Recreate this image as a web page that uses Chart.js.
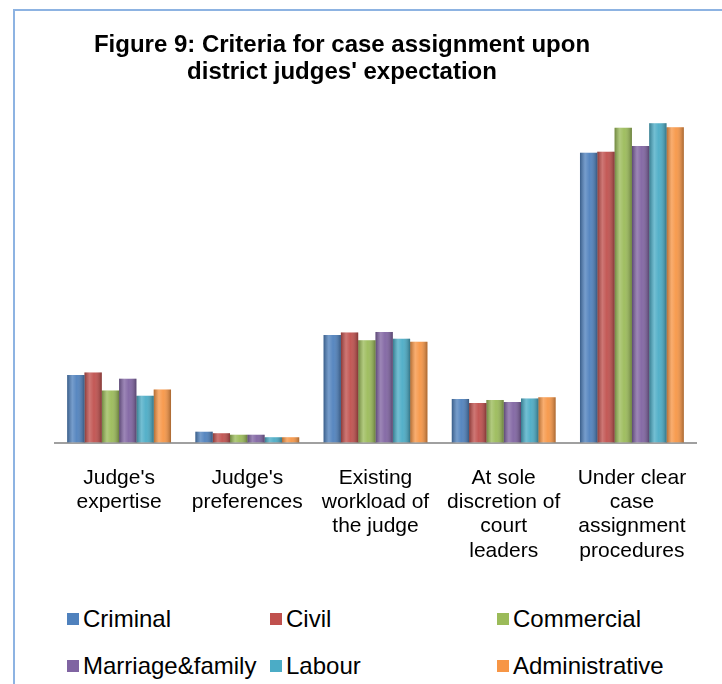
<!DOCTYPE html>
<html>
<head>
<meta charset="utf-8">
<script src="https://cdn.jsdelivr.net/npm/chart.js@4"></script>
<style>
  html, body { margin: 0; padding: 0; background: #fff; overflow: hidden; }
  body { width: 722px; height: 684px; position: relative; font-family: "Liberation Sans", Arial, sans-serif; }
  #frame { position: absolute; left: 13px; top: 9px; width: 760px; height: 720px; border: 2px solid #8db3e2; }
  #title { position: absolute; left: 42px; width: 600px; top: 30px; text-align: center; font-weight: bold; font-size: 24px; line-height: 27px; color: #000; }
  #wrap { position: absolute; left: 0; top: 0; width: 722px; height: 600px; }
  #legend { position: absolute; left: 0; top: 0; }
  .item { position: absolute; font-size: 24px; color: #000; white-space: nowrap; line-height: 24px; }
  .box { display: inline-block; width: 12px; height: 12px; margin-right: 4px; vertical-align: 2px; }
</style>
</head>
<body>
<div id="frame"></div>
<div id="wrap"><canvas id="chart"></canvas></div>
<div id="title">Figure 9: Criteria for case assignment upon<br>district judges' expectation</div>
<div id="legend"></div>
<script>
const categories = [
    ["Judge's", "expertise"],
    ["Judge's", "preferences"],
    ["Existing", "workload of", "the judge"],
    ["At sole", "discretion of", "court", "leaders"],
    ["Under clear", "case", "assignment", "procedures"]
];
const seriesNames = ['Criminal', 'Civil', 'Commercial', 'Marriage&family', 'Labour', 'Administrative'];
const seriesColors = ['#4f81bd', '#c0504d', '#9bbb59', '#8064a2', '#4bacc6', '#f79646'];

// percent of judges per case type
const criminal = [13.0, 2.1, 20.7, 8.4, 55.8];
const civil = [13.5, 1.8, 21.2, 7.6, 56.0];
const commercial = [10.0, 1.5, 19.7, 8.2, 60.6];
const marriageFamily = [12.3, 1.5, 21.3, 7.8, 57.1];
const labour = [9.0, 1.0, 20.0, 8.5, 61.5];
const administrative = [10.2, 1.0, 19.4, 8.7, 60.7];
const seriesValues = [criminal, civil, commercial, marriageFamily, labour, administrative];

// legend slots (left, top) in the order of the series
const legendSlots = [[67, 607], [270, 607], [497, 607], [67, 654], [270, 654], [497, 654]];

const legendEl = document.getElementById('legend');
seriesNames.forEach((name, i) => {
    const div = document.createElement('div');
    div.className = 'item';
    div.style.left = legendSlots[i][0] + 'px';
    div.style.top = legendSlots[i][1] + 'px';
    div.innerHTML = '<span class="box" style="background:' + seriesColors[i] + '"></span>' + name.replace('&', '&amp;');
    legendEl.appendChild(div);
});

// cylinder-like shading on top of each bar
const barShade = {
    id: 'barShade',
    afterDatasetsDraw(chart) {
        const ctx = chart.ctx;
        chart.data.datasets.forEach((ds, i) => {
            const meta = chart.getDatasetMeta(i);
            meta.data.forEach(bar => {
                const p = bar.getProps(['x', 'y', 'base', 'width'], true);
                const left = p.x - p.width / 2;
                const g = ctx.createLinearGradient(left, 0, left + p.width, 0);
                g.addColorStop(0, 'rgba(0,0,0,0.28)');
                g.addColorStop(0.3, 'rgba(255,255,255,0.22)');
                g.addColorStop(0.55, 'rgba(255,255,255,0.05)');
                g.addColorStop(1, 'rgba(0,0,0,0.32)');
                ctx.save();
                ctx.fillStyle = g;
                ctx.fillRect(left, p.y, p.width, p.base - p.y);
                ctx.restore();
            });
        });
    }
};

const ctx = document.getElementById('chart').getContext('2d');
const chart = new Chart(ctx, {
    type: 'bar',
    data: {
        labels: categories,
        datasets: seriesNames.map((name, i) => ({
            label: name,
            data: seriesValues[i],
            backgroundColor: seriesColors[i],
            borderWidth: 0,
            barPercentage: 1,
            categoryPercentage: 0.81
        }))
    },
    options: {
        responsive: true,
        maintainAspectRatio: false,
        animation: false,
        layout: {
            padding: { left: 55, right: 26, top: 79, bottom: 14 }
        },
        plugins: {
            legend: { display: false },
            tooltip: { enabled: false },
            title: { display: false }
        },
        scales: {
            x: {
                grid: { display: false, drawTicks: false },
                border: { display: true, color: '#a0a0a0', width: 2 },
                ticks: {
                    color: '#000',
                    padding: 23,
                    maxRotation: 0,
                    autoSkip: false,
                    font: { family: '"Liberation Sans", Arial, sans-serif', size: 21, lineHeight: 1.16 }
                }
            },
            y: {
                display: false,
                min: 0,
                max: 70
            }
        }
    },
    plugins: [barShade]
});
</script>
</body>
</html>
